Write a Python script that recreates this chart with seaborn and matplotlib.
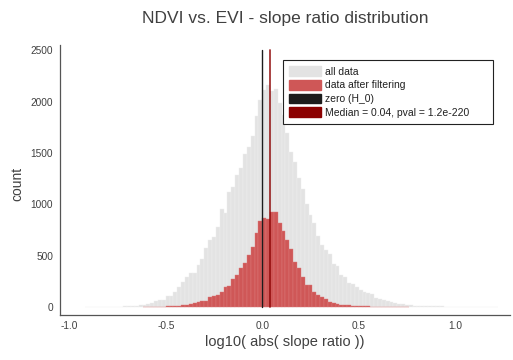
import numpy as np
import pandas as pd
import matplotlib
matplotlib.use("Agg")
import matplotlib.pyplot as plt
import seaborn as sns
from matplotlib.patches import Patch

# ---------------- data ----------------
bin_start = -0.92
bin_width = 0.02

all_counts = [
    1, 1, 1, 1, 2, 1, 2, 2, 3, 4, 5, 7, 9, 12, 16, 22,
    30, 36, 55, 65, 70, 107, 110, 143, 198, 247, 289, 328, 334, 406,
    464, 578, 653, 685, 783, 951, 912, 1117, 1172, 1286, 1351, 1487,
    1562, 1666, 1860, 2016,
    2114, 2162, 2107, 2120, 1984, 1870, 1692, 1513, 1410, 1253, 1145,
    1000, 893, 818, 690, 600, 560, 520, 420, 400, 312, 290, 237, 220,
    195, 165, 145, 135, 128, 88, 80, 70, 60, 48, 36, 32, 25, 20, 17,
    14, 12, 10, 8, 7, 6,
    5, 5, 4, 4, 3, 3, 3, 2, 2, 2, 2, 2, 1, 1, 1, 1,
]

filtered_counts = [
    0, 0, 0, 0, 0, 0, 0, 0, 0, 0, 0, 0, 0, 0, 0, 1,
    1, 1, 2, 3, 4, 5, 7, 10, 13, 17, 20, 26, 36, 49,
    55, 58, 95, 110, 120, 150, 198, 200, 275, 315, 377, 430,
    507, 581, 718, 835,
    865, 855, 929, 929, 820, 745, 653, 562, 442, 377, 290,
    214, 210, 150, 120, 100, 81, 45, 36, 29, 23, 19, 16, 13,
    10, 7, 6, 5, 4, 4, 3, 3, 2, 3, 2, 2, 1, 2, 0,
    0, 0, 0, 0, 0, 0,
    0, 0, 0, 0, 0, 0, 0, 0, 0, 0, 0, 0, 0, 0, 0, 0,
]

zero_line = 0.0
median_value = 0.04
line_top = 2500

legend_labels = ["all data", "data after filtering", "zero (H_0)",
                 "Median = 0.04, pval = 1.2e-220"]
x_ticks = [-1.0, -0.5, 0.0, 0.5, 1.0]
x_tick_labels = ["-1.0", "-0.5", "0.0", "0.5", "1.0"]
y_ticks = [0, 500, 1000, 1500, 2000, 2500]
y_tick_labels = ["0", "500", "1000", "1500", "2000", "2500"]

title = "NDVI vs. EVI - slope ratio distribution"
x_label = "log10( abs( slope ratio ))"
y_label = "count"

# ---------------- build ----------------
n = len(all_counts)
edges = [round(bin_start + bin_width * i, 4) for i in range(n + 1)]
centers = [(edges[i] + edges[i + 1]) / 2 for i in range(n)]
df = pd.DataFrame({"center": centers, "all": all_counts, "filt": filtered_counts})

sns.set_style("white")
plt.rcParams["font.family"] = ["Liberation Sans", "DejaVu Sans"]

GRAY = "#e3e3e3"
RED = "#cf5757"
BLACK = "#1c1c1c"
DARKRED = "#8b0000"
AXC = "#555555"
TXT = "#404040"

fig = plt.figure(figsize=(5.13, 3.6), dpi=100)
ax = fig.add_axes([60 / 513, 45 / 360, 450 / 513, 270 / 360])

sns.histplot(data=df, x="center", weights="all", bins=edges, ax=ax,
             color=GRAY, alpha=1.0, edgecolor="#f0f0f0", linewidth=0.3)
sns.histplot(data=df, x="center", weights="filt", bins=edges, ax=ax,
             color=RED, alpha=1.0, edgecolor="#dc7c7c", linewidth=0.3)

# hide empty bins so their outlines do not draw a line along the baseline
for p in ax.patches:
    if p.get_height() <= 0:
        p.set_visible(False)

ax.plot([zero_line, zero_line], [0, line_top], color=BLACK, lw=1.0, zorder=5)
ax.plot([median_value, median_value], [0, line_top], color=DARKRED, lw=1.3,
        alpha=0.8, zorder=5)

ax.set_xlim(-1.048, 1.284)
ax.set_ylim(-78, 2552)
ax.set_xticks(x_ticks)
ax.set_xticklabels(x_tick_labels)
ax.set_yticks(y_ticks)
ax.set_yticklabels(y_tick_labels)
ax.set_xlabel("")
ax.set_ylabel("")

for s in ["top", "right"]:
    ax.spines[s].set_visible(False)
for s in ["left", "bottom"]:
    ax.spines[s].set_color(AXC)
    ax.spines[s].set_linewidth(0.9)

ax.tick_params(axis="both", direction="in", length=3, width=0.8, color=AXC,
               labelsize=7.3, labelcolor=TXT)
ax.tick_params(axis="x", pad=4)
ax.tick_params(axis="y", pad=5)

handles = [Patch(facecolor=GRAY, edgecolor=GRAY),
           Patch(facecolor=RED, edgecolor=RED),
           Patch(facecolor=BLACK, edgecolor=BLACK),
           Patch(facecolor=DARKRED, edgecolor=DARKRED)]
leg_x0 = (283 - 60) / 450
leg_top = (315 - 60) / 270
leg_w = (493 - 283) / 450
leg = ax.legend(handles, legend_labels, loc="upper left",
                bbox_to_anchor=(leg_x0, leg_top - 0.4, leg_w, 0.4),
                mode="expand",
                fontsize=7.5, frameon=True, fancybox=False, framealpha=1,
                edgecolor="#222222", handlelength=3.0, handleheight=1.05,
                labelspacing=0.32, handletextpad=0.4, borderpad=0.6,
                borderaxespad=0)
leg.get_frame().set_linewidth(0.8)
for t in leg.get_texts():
    t.set_color("#202020")

fig.text(285 / 513, 1 - 18 / 360, title, ha="center", va="center",
         fontsize=12.5, color=TXT)
fig.text(285 / 513, 1 - 342 / 360, x_label, ha="center", va="center",
         fontsize=10.5, color=TXT)
fig.text(17 / 513, 1 - 184 / 360, y_label, ha="center", va="center",
         rotation=90, fontsize=10, color=TXT)

fig.savefig("out.png", dpi=100)
